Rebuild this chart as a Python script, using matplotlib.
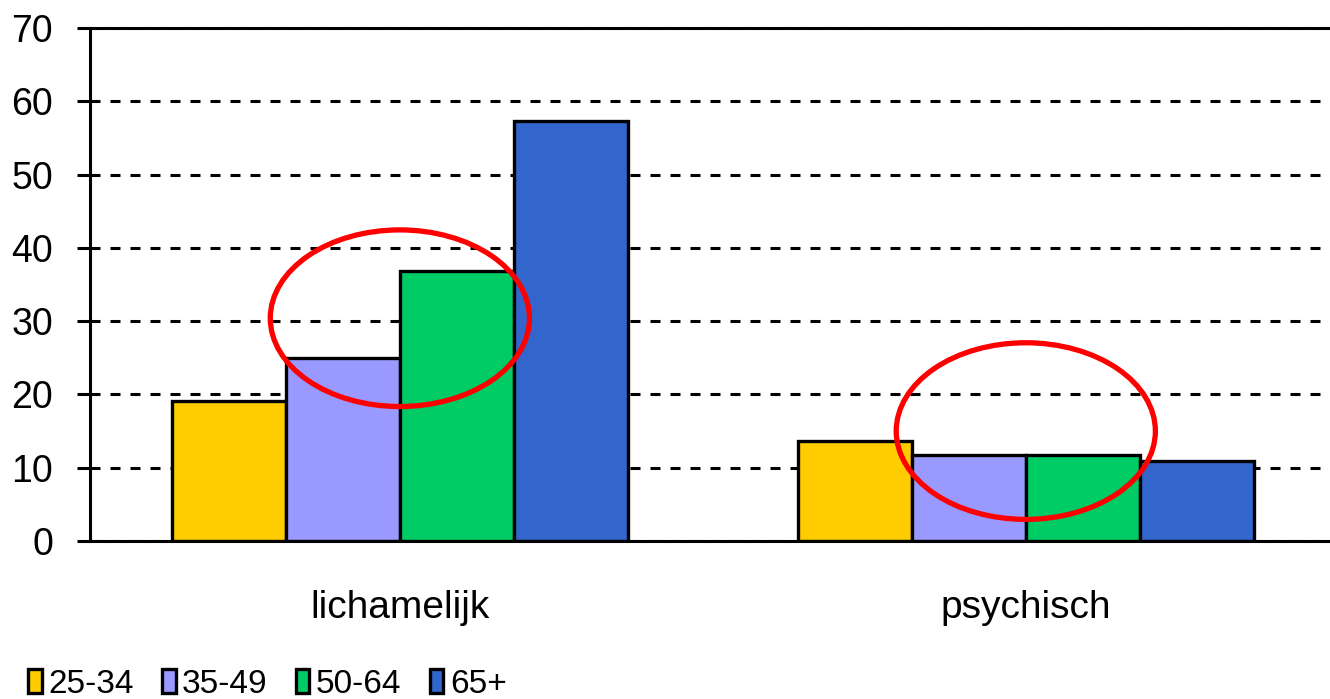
import numpy as np
import matplotlib
matplotlib.use("Agg")
from matplotlib import pyplot as plt
from matplotlib.patches import Ellipse

plt.rcParams['font.family'] = ['Liberation Sans', 'DejaVu Sans']
plt.rcParams['lines.scale_dashes'] = False

categories = ['lichamelijk', 'psychisch']
groups = ['25-34', '35-49', '50-64', '65+']
values = [
  [19.1, 13.6],   # 25-34
  [25.0, 11.7],   # 35-49
  [36.8, 11.7],   # 50-64
  [57.3, 10.9],   # 65+
]
colors = ['#FFCC00', '#9999FF', '#00CC66', '#3366CC']
yticks = [0, 10, 20, 30, 40, 50, 60, 70]

# circled groups: (category index, first group, last group, centre y)
highlights = [(0, 1, 2, 30.4), (1, 1, 2, 15.0)]

fig = plt.figure(figsize=(13.3, 6.99), dpi=100)
ax = fig.add_axes([90/1330, 1 - 541/699, 1 - 90/1330, (541 - 28)/699])

x = np.arange(len(categories))
w = 0.182
offsets = (np.arange(len(groups)) - 1.5) * w
for i in range(len(groups)):
  ax.bar(x + offsets[i], values[i], w, color=colors[i], edgecolor='black',
         linewidth=2.4, label=groups[i], zorder=3)

# red ellipses round the middle bars
for ci, g0, g1, cy in highlights:
  cx = x[ci] + (offsets[g0] + offsets[g1]) / 2
  ax.add_patch(Ellipse((cx, cy), 0.414, 24.1, fill=False, edgecolor='#FF0000',
                       linewidth=3.8, zorder=5))

ax.set_xlim(-0.495, 1.486)
ax.set_ylim(0, 70)
ax.set_yticks(yticks)
ax.set_xticks(x)
ax.set_xticklabels(categories)

ax.yaxis.grid(True, color='black', linewidth=2.2, linestyle=(0, (7.2, 7.2)))
ax.set_axisbelow(True)
ax.spines['right'].set_visible(False)
for s in ['left', 'bottom', 'top']:
  ax.spines[s].set_linewidth(2.2)
  ax.spines[s].set_zorder(4)

ax.tick_params(axis='y', length=9.5, width=2.2, pad=17, labelsize=27)
ax.tick_params(axis='x', length=0, pad=35, labelsize=28)

fig.legend(loc='lower left', bbox_to_anchor=(15/1330, -14/699), ncol=4, frameon=False,
           fontsize=24, handlelength=0.4, handleheight=0.72, handletextpad=0.2,
           columnspacing=0.85, borderaxespad=0)

plt.savefig('out.png', dpi=100)
